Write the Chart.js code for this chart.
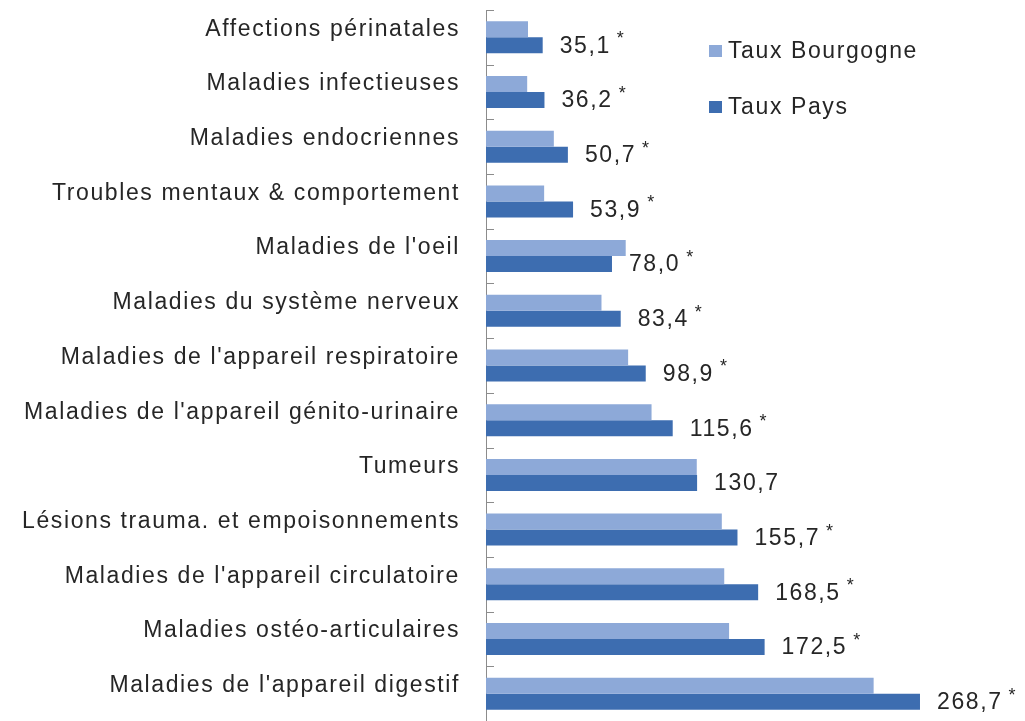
<!DOCTYPE html>
<html>
<head>
<meta charset="utf-8">
<script src="https://cdn.jsdelivr.net/npm/chart.js@4/dist/chart.umd.min.js"></script>
<style>
  html, body { margin: 0; background: #fff; }
</style>
</head>
<body>
<canvas id="myChart" width="1025" height="721"></canvas>
<script>
const categories = [
    'Affections périnatales',
    'Maladies infectieuses',
    'Maladies endocriennes',
    'Troubles mentaux & comportement',
    "Maladies de l'oeil",
    'Maladies du système nerveux',
    "Maladies de l'appareil respiratoire",
    "Maladies de l'appareil génito-urinaire",
    'Tumeurs',
    'Lésions trauma. et empoisonnements',
    "Maladies de l'appareil circulatoire",
    'Maladies ostéo-articulaires',
    "Maladies de l'appareil digestif"
];
const tauxBourgogne = [26, 25.5, 42, 36, 86.5, 71.5, 88, 102.5, 130.5, 146, 147.5, 150.5, 240];
const tauxPays = [35.1, 36.2, 50.7, 53.9, 78.0, 83.4, 98.9, 115.6, 130.7, 155.7, 168.5, 172.5, 268.7];
// asterisk = significant difference
const significatif = [true, true, true, true, true, true, true, true, false, true, true, true, true];
const seriesNames = ['Taux Bourgogne', 'Taux Pays'];

const colors = ['#8DA9D8', '#3D6DB0'];
const FONT = { family: "'Liberation Sans', Arial, sans-serif", size: 23 };
const TEXT = '#262626';

// windows-ish wide text
const spacing = {
    id: 'spacing',
    beforeUpdate: (chart) => { chart.ctx.letterSpacing = '1.6px'; },
    beforeDraw: (chart) => { chart.ctx.letterSpacing = '1.6px'; }
};

// small marks between categories, pointing into the plot
const axisTicks = {
    id: 'axisTicks',
    afterDatasetsDraw(chart) {
        const y = chart.scales.y, ctx = chart.ctx;
        const pitch = y.getPixelForValue(1) - y.getPixelForValue(0);
        ctx.save();
        ctx.strokeStyle = '#8c8c8c';
        ctx.lineWidth = 1;
        for (let i = 0; i <= categories.length; i++) {
            const py = Math.round(y.getPixelForValue(i) - pitch / 2) + 0.5;
            ctx.beginPath();
            ctx.moveTo(y.right, py);
            ctx.lineTo(y.right + 8, py);
            ctx.stroke();
        }
        ctx.restore();
    }
};

const valueLabels = {
    id: 'valueLabels',
    afterDatasetsDraw(chart) {
        const ctx = chart.ctx;
        const meta = chart.getDatasetMeta(1);
        ctx.save();
        ctx.fillStyle = TEXT;
        ctx.textBaseline = 'middle';
        meta.data.forEach((bar, i) => {
            const txt = tauxPays[i].toFixed(1).replace('.', ',');
            ctx.font = `${FONT.size}px ${FONT.family}`;
            const x = bar.x + 17;
            ctx.fillText(txt, x, bar.y + 1);
            if (significatif[i]) {
                const w = ctx.measureText(txt).width;
                ctx.font = `18px ${FONT.family}`;
                ctx.fillText('*', x + w + 6, bar.y - 6);
            }
        });
        ctx.restore();
    }
};

const legendBox = {
    id: 'legendBox',
    afterDraw(chart) {
        const ctx = chart.ctx, area = chart.chartArea;
        ctx.save();
        ctx.font = `${FONT.size}px ${FONT.family}`;
        ctx.textBaseline = 'middle';
        seriesNames.forEach((name, i) => {
            const x = area.left + 223;
            const y = area.top + 41 + i * 56;
            ctx.fillStyle = colors[i];
            ctx.fillRect(x, y - 6, 13, 12);
            ctx.fillStyle = TEXT;
            ctx.fillText(name, x + 19, y + 1);
        });
        ctx.restore();
    }
};

const ctx = document.getElementById('myChart').getContext('2d');
const chart = new Chart(ctx, {
    type: 'bar',
    data: {
        labels: categories,
        datasets: [
            { label: seriesNames[0], data: tauxBourgogne, backgroundColor: colors[0] },
            { label: seriesNames[1], data: tauxPays, backgroundColor: colors[1] }
        ]
    },
    options: {
        indexAxis: 'y',
        responsive: false,
        animation: false,
        categoryPercentage: 0.585,
        barPercentage: 1,
        layout: { padding: { top: 10, bottom: 0, left: 0, right: 6 } },
        plugins: {
            legend: { display: false },
            tooltip: { enabled: false }
        },
        scales: {
            x: { display: false, min: 0, max: 330 },
            y: {
                grid: { display: true, drawOnChartArea: false, drawTicks: false },
                border: { display: true, color: '#8c8c8c', width: 1 },
                ticks: { color: TEXT, font: FONT, padding: 26, labelOffset: -8 },
                afterFit: (s) => {
                    s.width = 486;
                    s.paddingTop = 0;
                    s.paddingBottom = 0;
                }
            }
        }
    },
    plugins: [spacing, axisTicks, valueLabels, legendBox]
});
</script>
</body>
</html>
